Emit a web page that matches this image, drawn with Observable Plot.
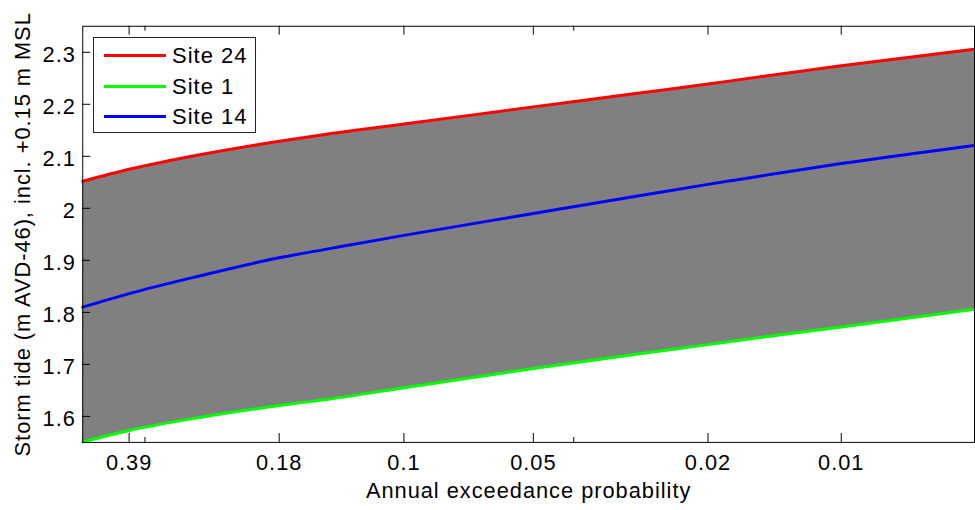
<!DOCTYPE html>
<html>
<head>
<meta charset="utf-8">
<script src="https://cdn.jsdelivr.net/npm/d3@7"></script>
<script src="https://cdn.jsdelivr.net/npm/@observablehq/plot@0.6"></script>
<style>
  html, body { margin: 0; padding: 0; background: #fff; overflow: hidden; }
  #wrap { position: relative; width: 975px; height: 510px; overflow: hidden; }
  #wrap svg { display: block; }
  .legend { position: absolute; left: 93px; top: 37px; width: 163px; height: 96px; box-sizing: border-box;
    background: #fff; border: 1px solid #222; font-family: "Liberation Sans", Arial, sans-serif; font-size: 22px; letter-spacing: 1px; color: #000; }
  .row { position: absolute; left: 0; height: 30px; display: flex; align-items: center; }
  .sw { display: inline-block; margin-left: 10px; width: 62px; height: 3px; }
  .lab { margin-left: 6px; padding-top: 2px; white-space: nowrap; }
</style>
</head>
<body>
<div id="wrap"></div>
<script>
// Annual exceedance probability of each sampled point
const aep = [0.5, 0.3935, 0.2736, 0.1813, 0.1408, 0.0952, 0.0488, 0.0274, 0.0198, 0.0173, 0.00995, 0.005];
// Storm tide (m AVD-46) per site
const site24 = [2.052, 2.075, 2.103, 2.129, 2.143, 2.162, 2.195, 2.223, 2.239, 2.246, 2.274, 2.306];
const site1  = [1.551, 1.573, 1.598, 1.621, 1.633, 1.655, 1.692, 1.722, 1.738, 1.745, 1.772, 1.806];
const site14 = [1.810, 1.836, 1.870, 1.905, 1.922, 1.948, 1.990, 2.026, 2.046, 2.054, 2.086, 2.121];

const seriesNames = ["Site 24", "Site 1", "Site 14"];
const seriesColors = ["#ff0000", "#00ff00", "#0000ff"];

// Axis ticks
const xTickValues = [0.3935, 0.1813, 0.0952, 0.0488, 0.0198, 0.00995];
const xTickLabels = ["0.39", "0.18", "0.1", "0.05", "0.02", "0.01"];
const xMinorTicks = [0.3626, 0.0396];
const yTickValues = [1.6, 1.7, 1.8, 1.9, 2.0, 2.1, 2.2, 2.3];

const xLabel = "Annual exceedance probability";
const yLabel = "Storm tide (m AVD-46), incl. +0.15 m MSL";

const band = aep.map((p, i) => ({p, lo: site1[i], hi: site24[i]}));
const lines = [];
[site24, site1, site14].forEach((vals, s) => {
  vals.forEach((v, i) => lines.push({p: aep[i], v, name: seriesNames[s]}));
});

const W = 984, H = 510;
const mL = 83, mR = 1, mT = 26, mB = 64;
const fw = W - mL - mR, fh = H - mT - mB;

const chart = Plot.plot({
  width: W,
  height: H,
  marginLeft: mL,
  marginRight: mR,
  marginTop: mT,
  marginBottom: mB,
  style: {fontFamily: "'Liberation Sans', Arial, sans-serif", fontSize: "22px", letterSpacing: "1px", color: "#000", background: "#fff"},
  x: {type: "log", domain: [0.5, 0.005], axis: null},
  y: {domain: [1.55, 2.35], axis: null},
  color: {domain: seriesNames, range: seriesColors},
  marks: [
    Plot.areaY(band, {x: "p", y1: "lo", y2: "hi", fill: "#808080", curve: "monotone-x"}),
    Plot.line(lines, {x: "p", y: "v", z: "name", stroke: "name", strokeWidth: 3, curve: "monotone-x"}),
    Plot.frame({stroke: "#000", strokeWidth: 1}),
    // inward ticks, bottom and top
    Plot.tickX(xTickValues, {x: d => d, insetTop: fh - 9, stroke: "#000"}),
    Plot.tickX(xTickValues, {x: d => d, insetBottom: fh - 9, stroke: "#000"}),
    Plot.tickX(xMinorTicks, {x: d => d, insetTop: fh - 5, stroke: "#000"}),
    Plot.tickX(xMinorTicks, {x: d => d, insetBottom: fh - 5, stroke: "#000"}),
    Plot.tickY(yTickValues, {y: d => d, insetRight: fw - 8, stroke: "#000"}),
    Plot.axisX(xTickValues, {anchor: "bottom", tickSize: 0, tickPadding: 12,
      tickFormat: d => xTickLabels[xTickValues.indexOf(d)], label: null}),
    Plot.axisY(yTickValues, {anchor: "left", tickSize: 0, tickPadding: 7, dy: 3,
      tickFormat: d => String(+d.toFixed(1)), label: null}),
    Plot.text([xLabel], {text: d => d, frameAnchor: "bottom", textAnchor: "middle", lineAnchor: "middle", dy: 49}),
    Plot.text([yLabel], {text: d => d, frameAnchor: "left", textAnchor: "middle", lineAnchor: "middle", rotate: -90, dx: -60})
  ]
});
document.getElementById("wrap").appendChild(chart);

// legend overlay
const legend = document.createElement("div");
legend.className = "legend";
const rowCenters = [17, 48, 78];
seriesNames.forEach((n, i) => {
  const row = document.createElement("div");
  row.className = "row";
  row.style.top = (rowCenters[i] - 15) + "px";
  const sw = document.createElement("span");
  sw.className = "sw";
  sw.style.background = seriesColors[i];
  const lab = document.createElement("span");
  lab.className = "lab";
  lab.textContent = n;
  row.appendChild(sw);
  row.appendChild(lab);
  legend.appendChild(row);
});
document.getElementById("wrap").appendChild(legend);
</script>
</body>
</html>
